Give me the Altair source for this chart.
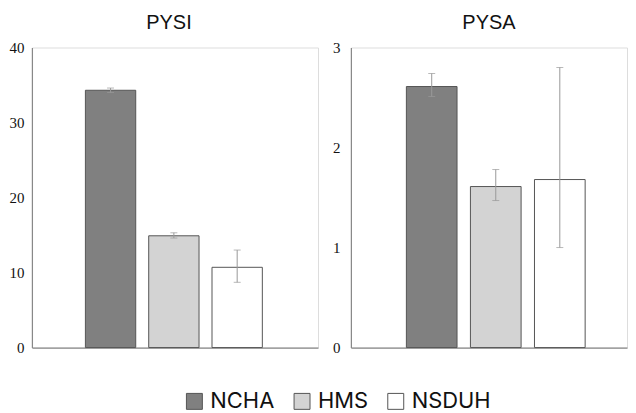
import altair as alt
import pandas as pd

sources = ["NCHA", "HMS", "NSDUH"]
colors = ["#808080", "#d3d3d3", "#ffffff"]

pysi_val = [34.3, 14.9, 10.7]
pysi_lo = [34.0, 14.6, 8.7]
pysi_hi = [34.6, 15.3, 13.0]

pysa_val = [2.61, 1.61, 1.68]
pysa_lo = [2.51, 1.47, 1.00]
pysa_hi = [2.74, 1.78, 2.80]

pysi_ticks = [0, 10, 20, 30, 40]
pysa_ticks = [0, 1, 2, 3]


def panel(title, vals, lo, hi, ymax, ticks, label_pad, title_dx, width,
          p_inner, p_outer, align, show_legend):
    df = pd.DataFrame({"source": sources, "value": vals, "lo": lo, "hi": hi})
    xscale = alt.Scale(paddingInner=p_inner, paddingOuter=p_outer, align=align)
    x = alt.X(
        "source:N",
        sort=sources,
        scale=xscale,
        axis=alt.Axis(labels=False, ticks=False, title=None, domainColor="#888888",
                      domainWidth=1.2),
    )
    y = alt.Y(
        "value:Q",
        scale=alt.Scale(domain=[0, ymax], nice=False, zero=True),
        axis=alt.Axis(values=ticks, format="d", ticks=False, grid=False, title=None,
                      domainColor="#888888", domainWidth=1.2,
                      labelFont="Liberation Serif", labelFontSize=15,
                      labelColor="#111111", labelPadding=label_pad),
    )
    legend = alt.Legend(
        title=None, orient="none", direction="horizontal",
        legendX=152, legendY=344,
        symbolType="square", symbolSize=256, symbolStrokeColor="#555555",
        symbolStrokeWidth=1, labelFont="Inter", labelFontSize=22,
        labelColor="#111111", columnPadding=16, labelOffset=5,
    ) if show_legend else None
    color = alt.Color(
        "source:N", sort=sources,
        scale=alt.Scale(domain=sources, range=colors),
        legend=legend,
    )
    bars = alt.Chart(df).mark_bar(stroke="#555555", strokeWidth=1).encode(
        x=x, y=y, color=color
    )
    err = alt.Chart(df).mark_errorbar(ticks=alt.MarkConfig(size=7, color="#999999"),
                                      rule=alt.MarkConfig(color="#999999")).encode(
        x=alt.X("source:N", sort=sources, scale=xscale),
        y=alt.Y("lo:Q"),
        y2="hi:Q",
    )
    return alt.layer(bars, err).properties(
        width=width, height=301,
        title=alt.TitleParams(title, fontSize=20, font="Liberation Sans",
                              fontWeight="normal", color="#111111",
                              frame="group", anchor="middle", dx=title_dx, offset=8),
    )


left = panel("PYSI", pysi_val, pysi_lo, pysi_hi, 40, pysi_ticks, 8, -6, 287,
             0.205, 0.862, 0.49, True)
right = panel("PYSA", pysa_val, pysa_lo, pysa_hi, 3, pysa_ticks, 11, 0, 277,
              0.209, 0.76, 0.57, True)

chart = alt.hconcat(left, right, spacing=13).properties(
    padding={"left": 0, "top": 3, "right": 0, "bottom": 0}
).configure_view(strokeWidth=0).configure(background="white")

chart.save("out.html", embed_options={"renderer": "svg", "actions": False})
